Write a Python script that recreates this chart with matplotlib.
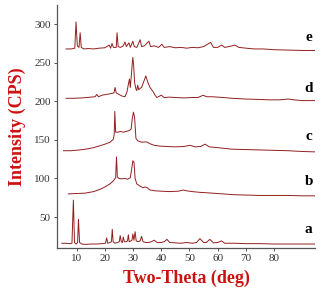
import matplotlib
matplotlib.use("Agg")
import matplotlib.pyplot as plt

# ---- data ----
a_x = [4.7, 6, 7.5, 8.3, 8.8, 9.2, 9.8, 10.3, 10.6, 11.0, 11.8, 13, 15, 17, 19, 20.2, 20.6, 21.0, 21.8, 22.3,
       22.6, 22.9, 23.5, 24.5, 25.1, 25.4, 25.8, 26.2, 26.5, 26.9, 27.5, 28.0, 28.3, 28.6, 29.2, 29.6, 29.9, 30.3,
       30.7, 31.1, 31.8, 32.5, 33.0, 33.5, 34.5, 35.5, 36.5, 37.5, 38.5, 40, 41, 42, 43, 45, 47, 49, 51, 52.5,
       53.7, 55, 56, 57.2, 58.5, 60, 61.4, 62.5, 64, 66, 70, 75, 80, 85, 90, 94.5]
a_y = [16, 16, 15.5, 16, 72, 17, 15, 17, 47, 17, 15, 14.5, 15, 15, 15.5, 16, 23, 16, 17, 18,
       34, 18, 16, 17, 18, 26, 18, 17, 24, 18, 18, 19, 27, 18, 19, 20, 28, 20,
       31, 19, 18, 19, 25, 18, 17, 17, 18, 20, 17, 17, 18, 21, 17, 16.5, 16, 17, 16, 17,
       22, 17, 17, 21, 16.5, 17, 19, 16, 16, 16, 15.5, 15.5, 15, 15, 15, 15]

b_x = [7, 10, 13, 16, 18.3, 20, 21.8, 23, 23.8, 24.1, 24.4, 25, 26, 27, 28, 29, 29.6, 29.9, 30.3, 30.7,
       31.3, 32.5, 33.5, 34.2, 35, 36, 37.8, 40, 43, 46, 47.8, 49, 51, 53.7, 56, 60, 65.5, 70, 75, 80,
       85, 90, 94.5]
b_y = [80, 80.5, 81, 83, 86, 89, 93, 97, 101, 128, 102, 100, 99.5, 100, 99, 101, 115, 123, 121, 100,
       93, 90, 88, 89, 88, 85, 84, 83.5, 83, 83.5, 85, 84, 83, 82, 81.5, 80.5, 79, 78.5, 78, 78,
       78, 77.5, 77.5]

c_x = [5.3, 8, 11, 14, 16, 18.3, 20, 21.8, 23, 23.3, 23.5, 23.8, 24.5, 25.5, 26.5, 27.5, 28.5, 29.3, 29.7,
       30.1, 30.5, 31, 31.6, 33, 34.8, 36, 37.5, 39.5, 42, 45, 48, 50.2, 52, 54, 55.5, 57, 60, 65, 70, 75,
       80, 85, 90, 94.5]
c_y = [136, 136, 137, 138.5, 140, 142.5, 144.5, 147, 151, 158, 187, 160, 160, 161, 160, 161, 162, 164, 178,
       186, 180, 152, 149, 147, 147.5, 145, 143, 142, 141.5, 141, 141.5, 143, 141, 141.5, 144.5, 141, 140,
       138, 137.5, 137, 136.5, 136, 135, 134.5]

d_x = [6.2, 9, 12, 15, 16.5, 17.1, 17.7, 19, 20.5, 22, 23.2, 23.6, 24, 25, 26, 27.1, 27.8, 28.3, 28.7, 29.0,
       29.4, 29.7, 29.9, 30.2, 30.5, 31.0, 31.3, 31.6, 32.0, 32.5, 33, 33.8, 34.5, 35.2, 36, 37.2, 37.8,
       38.4, 40, 41, 43, 45, 48, 51, 53, 54.9, 56, 58, 60, 62, 65, 70, 75, 78, 82, 85, 87, 90, 94.5]
d_y = [204, 204, 204.5, 205.5, 206, 209, 206, 208, 209, 210, 211, 218, 211, 209, 207, 206, 212, 222, 229, 218,
       235, 250, 257, 246, 225, 216, 214, 221, 215, 217, 218, 226, 233, 225, 218, 212, 208,
       205, 208, 205, 205.5, 205, 204.5, 205, 205, 208, 206, 206, 205.5, 205, 204, 203, 202.5, 202, 202, 203,
       202, 201, 201]

e_x = [6.2, 8, 9.3, 9.75, 10.2, 10.8, 11.2, 11.6, 12.5, 14, 16, 18, 20, 21.5, 22, 22.5, 23, 24, 24.3, 24.7,
       25.5, 26.5, 27.1, 27.6, 28.5, 29, 29.9, 30.4, 31.3, 32.5, 33, 34, 35.6, 36.2, 37.5, 39, 40.2, 41, 43,
       45, 47, 49, 51, 53, 55, 57.5, 58.5, 60, 61.4, 62.5, 64, 66.1, 67.5, 70, 73, 76, 80, 85, 90, 94.5]
e_y = [268, 268, 269, 303, 272, 270, 289, 270, 268, 268.5, 268, 269, 269.5, 273, 269, 275, 270, 270, 289, 271,
       270, 272, 277, 271, 276, 270, 278, 271, 270, 280, 271, 272, 278, 271, 272, 270, 274, 270, 271,
       269.5, 270, 269, 270, 269.5, 271, 276.5, 270, 270, 273, 270, 271, 273, 270, 269, 268, 268, 267, 266.5,
       266, 266]

curve_labels = ["a", "b", "c", "d", "e"]
label_y = [34, 96, 154, 217, 283]
x_ticks = [10, 20, 30, 40, 50, 60, 70, 80]
y_ticks = [50, 100, 150, 200, 250, 300]

# ---- plot ----
fig = plt.figure(figsize=(3.24, 2.93), dpi=100)
ax = fig.add_axes([0.176, 0.154, 0.796, 0.829])

line_color = "#921f1f"
for xs, ys in [(a_x, a_y), (b_x, b_y), (c_x, c_y), (d_x, d_y), (e_x, e_y)]:
    ax.plot(xs, ys, color=line_color, lw=0.7)

for lab, ly in zip(curve_labels, label_y):
    ax.text(92.3, ly, lab, fontsize=11, fontweight="bold", family="Liberation Serif",
            ha="center", va="center", color="black")

ax.set_xlim(3, 94.5)
ax.set_ylim(10, 325)
ax.set_xticks(x_ticks)
ax.set_yticks(y_ticks)
for s in ["top", "right"]:
    ax.spines[s].set_visible(False)
for s in ["left", "bottom"]:
    ax.spines[s].set_color("#555555")
    ax.spines[s].set_linewidth(0.9)
ax.tick_params(axis="both", labelsize=8, length=2.5, width=0.7, color="#555555",
               labelcolor="#333333", pad=2)
for t in ax.get_xticklabels() + ax.get_yticklabels():
    t.set_family("Liberation Serif")

ax.set_xlabel("Two-Theta (deg)", fontsize=13, fontweight="bold", color="#cc1111",
              family="Liberation Serif", labelpad=5)
ax.set_ylabel("Intensity (CPS)", fontsize=13, fontweight="bold", color="#cc1111",
              family="Liberation Serif", labelpad=6)

fig.savefig("out.png", dpi=100)
